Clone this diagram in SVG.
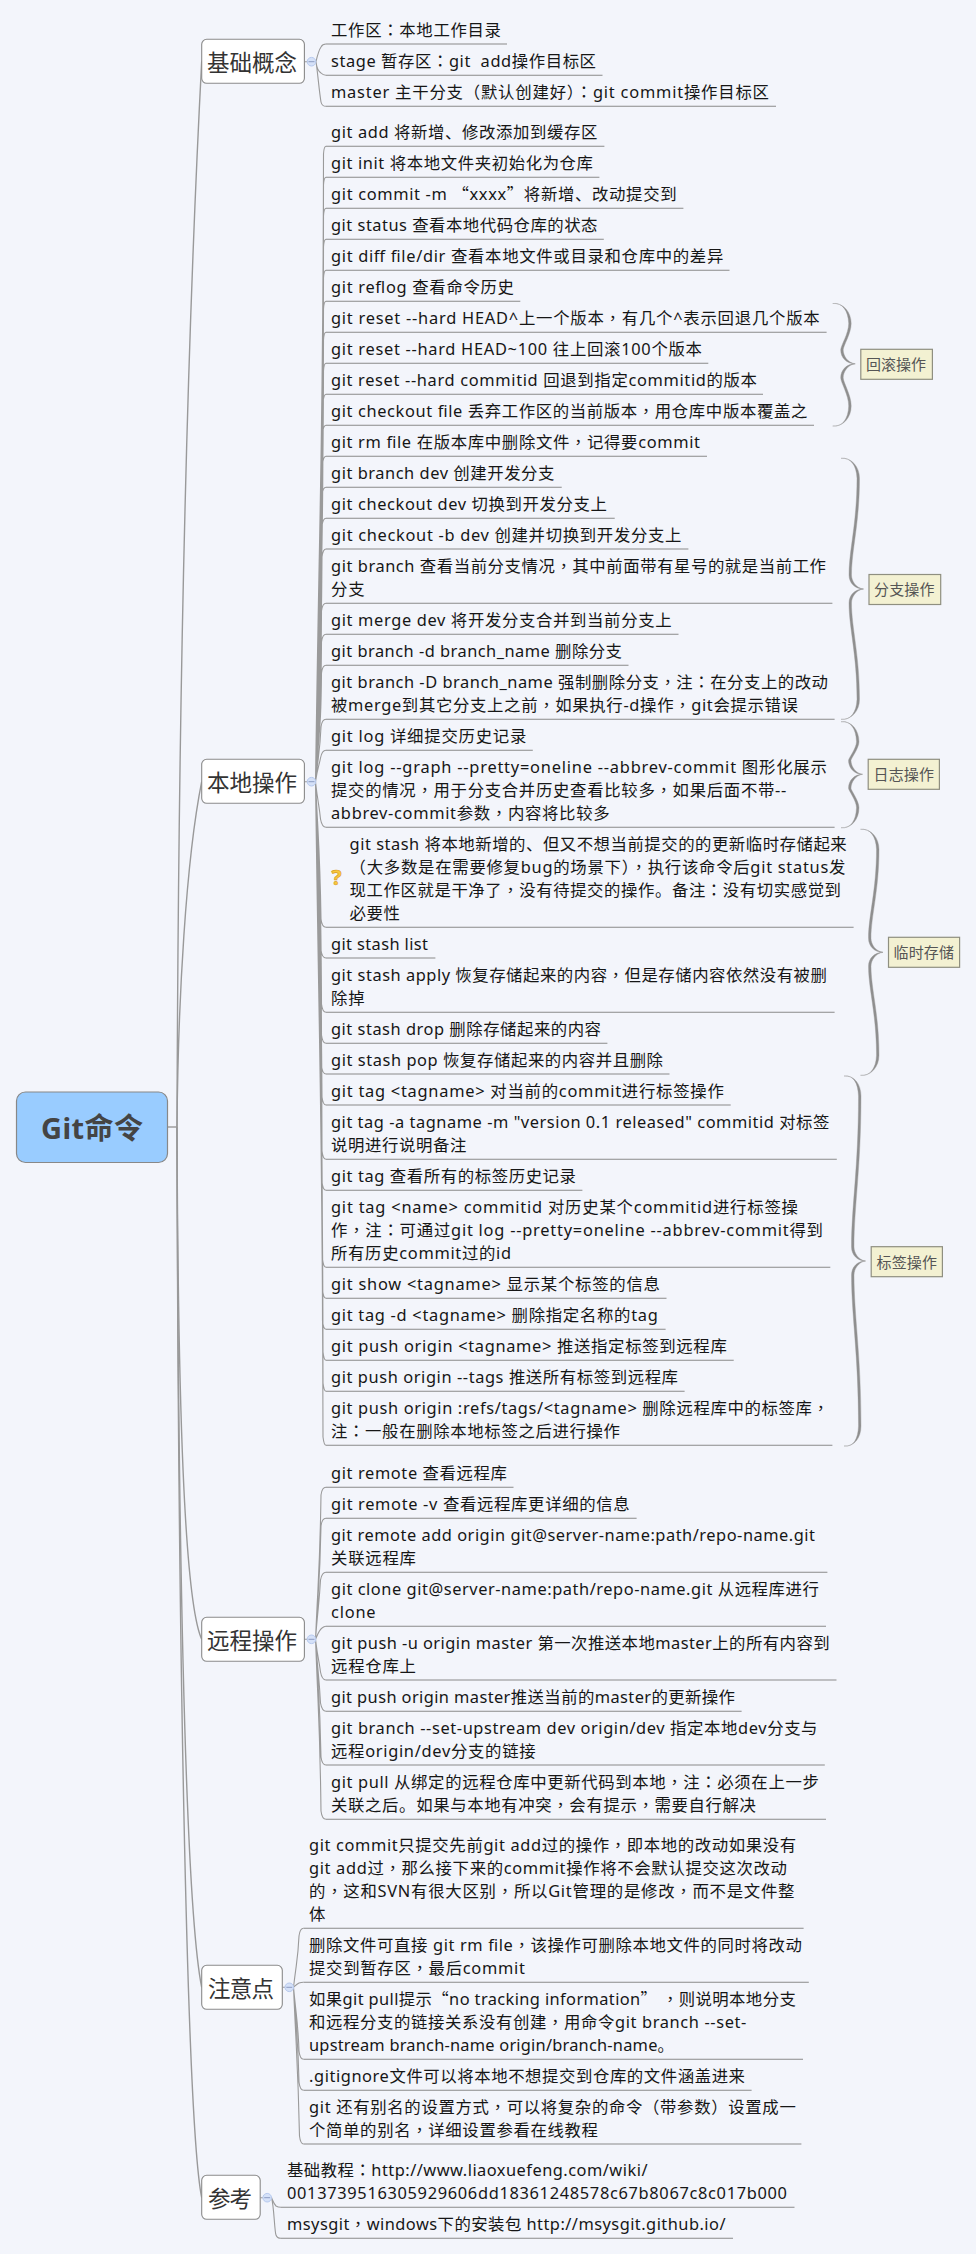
<svg xmlns="http://www.w3.org/2000/svg" width="976" height="2254" viewBox="0 0 976 2254">
<style>
text{font-family:"Noto Sans","Noto Sans CJK SC",sans-serif;white-space:pre}
.t{font-size:16.4px;fill:#161616}
.c{font-family:"Noto Sans CJK SC",sans-serif}
.p{font-family:"Noto Sans CJK TC",sans-serif}
.u{fill:none;stroke:#8a8a8a;stroke-width:1.1}
.b{fill:#fff;stroke:#8a8a8a;stroke-width:1.1}
.h{font-size:22.5px;fill:#333}
.s{fill:#f3f1d2;stroke:#8f8f80;stroke-width:1.2}
.l{font-size:15px;fill:#555}
.k{fill:none;stroke:#9a9a9a;stroke-width:1.1}
.m{fill:none;stroke:#999;stroke-width:1.4}
.br{fill:#8e8e8e;stroke:#9a9a9a;stroke-width:.4}
.bt{fill:#d5e1f8;stroke:#b6c9ee;stroke-width:1}
.bm{stroke:#8c9cc2;stroke-width:1}
</style>
<rect width="976" height="2254" fill="#f3f5fb"/>
<g id="connectors">
<path class="m" d="M167.7 1127H177"/>
<path class="m" d="M177 1127C178 800 184 400 201.7 61.3"/>
<path class="m" d="M177 1127C178 1000 186 860 201.7 781.7"/>
<path class="m" d="M177 1127C178 1400 184 1600 201.7 1639.3"/>
<path class="m" d="M177 1127C178 1500 184 1900 201.7 1987.3"/>
<path class="m" d="M177 1127C178 1600 186 2120 201.7 2197.7"/>
<path class="k" d="M304.4 61.7H316M304.4 781.7H316M304.4 1639.3H316M282.3 1987.3H293.5M260.2 2197.7H271.5"/>
<path class="k" d="M316 61.7C317.5 55 319 50 321 47Q322.5 44 326 44M316 61.7C316.5 66 318 71 321 73Q323 75.3 326 75.3M316 61.7C318 75 319 90 321 102Q322 106.3 326 106.3"/>
<path class="k" d="M315.5 781.7C320 464 323 464 323.5 154Q324 146.3 326 146.3M315.5 781.7C320 479 323 479 323.5 185Q324 177.3 326 177.3M315.5 781.7C320 495 323 495 323.5 216Q324 208.3 326 208.3M315.5 781.7C320 510 323 510 323.5 247Q324 239.3 326 239.3M315.5 781.7C320 526 323 526 323.5 278Q324 270.3 326 270.3M315.5 781.7C320 541 323 541 323.5 309Q324 301.3 326 301.3M315.5 781.7C320 557 323 557 323.5 340Q324 332.3 326 332.3M315.5 781.7C320 572 323 572 323.5 371Q324 363.3 326 363.3M315.5 781.7C320 588 323 588 323 402Q324 394.3 326 394.3M315.5 781.7C320 603 322 603 322.5 433Q323.5 425.3 326 425.3M315.5 781.7C320 619 322 619 322.5 464Q323.5 456.3 326 456.3M315.5 781.7C320 634 321.5 634 322 495Q323 487.3 326 487.3M315.5 781.7C320 650 321.5 650 322 526Q323 518.3 326 518.3M315.5 781.7C320 665 321.5 665 322 557Q323 549 326 549M315.5 781.7C320 692 321 692 321.5 611Q322.5 603.3 326 603.3M315.5 781.7C320 708 321 708 321.5 642Q322.5 634.3 326 634.3M315.5 781.7C320 723 321 723 321.5 673Q322.5 665.3 326 665.3M315.5 781.7C319 750 320 750 321 727Q322 719.3 326 719.3M315.5 781.7C318 766 319 766 320.5 758Q322 750.3 326 750.3"/>
<path class="k" d="M315.5 781.7C318 804 319 804 320.5 819Q322 827.3 326 827.3M315.5 781.7C319 854 320 854 321 919Q322 927.3 326 927.3M315.5 781.7C319 870 320 870 321 950Q322 958 326 958M315.5 781.7C320 897 321 897 321.5 1004Q322.5 1012.3 326 1012.3M315.5 781.7C320 912 321 912 321.5 1035Q322.5 1043.3 326 1043.3M315.5 781.7C320 928 321 928 321.5 1066Q322.5 1074 326 1074M315.5 781.7C320 943 321 943 322 1097Q323 1105 326 1105M315.5 781.7C320 970 321.5 970 322 1151Q323 1159.3 326 1159.3M315.5 781.7C320 986 321.5 986 322 1182Q323 1190.3 326 1190.3M315.5 781.7C320 1024 322 1024 322.5 1259Q323.5 1267.3 326 1267.3M315.5 781.7C320 1040 322 1040 322.5 1290Q323.5 1298.3 326 1298.3M315.5 781.7C320 1055 322 1055 322.5 1321Q323.5 1329.3 326 1329.3M315.5 781.7C320 1071 322.5 1071 323 1352Q324 1360.3 326 1360.3M315.5 781.7C320 1086 322.5 1086 323 1383Q324 1391.3 326 1391.3M315.5 781.7C320 1113 322.5 1113 323 1437Q324 1445.3 326 1445.3"/>
<path class="k" d="M315.5 1639.3C319 1563 320 1563 321 1495Q322 1487.3 326 1487.3M315.5 1639.3C319 1579 320 1579 321 1526Q322 1518.3 326 1518.3M315.5 1639.3C318 1606 319 1606 320.5 1580Q322 1572.3 326 1572.3M315.5 1639.3C317 1636 319 1630 322 1628Q324 1626.3 326 1626.3M315.5 1639.3C318 1660 319 1660 320.5 1672Q322 1680 326 1680M315.5 1639.3C318 1675 319 1675 320.5 1703Q322 1711.3 326 1711.3M315.5 1639.3C319 1702 320 1702 321 1757Q322 1765 326 1765M315.5 1639.3C319 1729 320 1729 321 1811Q322 1819.3 326 1819.3"/>
<path class="k" d="M293.5 1987.3C297 1958 298 1958 299 1936Q300 1928.3 303.6 1928.3M293.5 1987.3C295 1986 297 1984 299 1983Q301 1982.3 303.6 1982.3M293.5 1987.3C297 2023 298 2023 299 2051Q300 2059.3 303.6 2059.3M293.5 1987.3C297 2039 298 2039 299 2082Q300 2090.3 303.6 2090.3M293.5 1987.3C297 2066 298 2066 299.5 2136Q300.5 2144 303.6 2144"/>
<path class="k" d="M271.5 2197.7C273 2201 274 2204 276 2206Q278 2207.3 281 2207.3M271.5 2197.7C274 2205 274.5 2232 276 2235Q277 2238.3 281 2238.3"/>
</g>
<g id="root"><rect x="16.5" y="1092" width="151" height="70.5" rx="9" fill="#99ccff" stroke="#888" stroke-width="1.2"/><text x="41" y="1138.5" font-size="29" font-weight="700" fill="#444" textLength="102">Git命令</text></g>
<g id="topic-basic"><rect class="b" x="201.7" y="39.3" width="102.7" height="44" rx="5"/><text class="h" x="207" y="71" textLength="90">基础概念</text><circle class="bt" cx="311.5" cy="61.7" r="4.3"/><path class="bm" d="M308.5 61.7H314.5"/></g>
<g id="topic-local"><rect class="b" x="201.7" y="759.3" width="102.7" height="44" rx="5"/><text class="h" x="207" y="791" textLength="90">本地操作</text><circle class="bt" cx="311.5" cy="781.7" r="4.3"/><path class="bm" d="M308.5 781.7H314.5"/></g>
<g id="topic-remote"><rect class="b" x="201.7" y="1617.3" width="102.7" height="44" rx="5"/><text class="h" x="207" y="1649" textLength="90">远程操作</text><circle class="bt" cx="311.5" cy="1639.3" r="4.3"/><path class="bm" d="M308.5 1639.3H314.5"/></g>
<g id="topic-notes"><rect class="b" x="201.7" y="1965.3" width="80.6" height="44" rx="5"/><text class="h" x="208" y="1997" textLength="66">注意点</text><circle class="bt" cx="289.3" cy="1987.3" r="4.3"/><path class="bm" d="M286.3 1987.3H292.3"/></g>
<g id="topic-ref"><rect class="b" x="201.7" y="2175.3" width="58.5" height="44" rx="5"/><text class="h" x="208" y="2207" textLength="44">参考</text><circle class="bt" cx="267.2" cy="2197.7" r="4.3"/><path class="bm" d="M264.2 2197.7H270.2"/></g>
<g id="braces">
<path class="br" transform="translate(832.7 0)" d="M0 303.5C9 302.5 15.5 309.5 16 323.5C16 333.6 8 345.7 8 349.8C8 358 14 363.8 22.5 363.8C14 363.8 8 370 8 377.8C8 382.5 16 394.9 16 406C15.5 420 9 427 0 426C10 427 18.5 418 18.5 406C18.5 394.9 10.5 382.5 10.5 377.8C10.5 371.8 15 364.8 22.5 363.8C15 362.8 10.5 355.8 10.5 349.8C10.5 345.7 18.5 333.6 18.5 323.5C18.5 311.5 10 302.5 0 303.5Z"/>
<path class="br" transform="translate(841 0)" d="M0 458.3C9 457.3 15.5 464.3 16 478.3C16 523.6 8 549.8 8 575C8 583 14 589 22.5 589C14 589 8 595 8 603C8 628.1 16 654.2 16 699.3C15.5 713.3 9 720.3 0 719.3C10 720.3 18.5 711.3 18.5 699.3C18.5 654.2 10.5 628.1 10.5 603C10.5 597 15 590 22.5 589C15 588 10.5 581 10.5 575C10.5 549.8 18.5 523.6 18.5 478.3C18.5 466.3 10 457.3 0 458.3Z"/>
<path class="br" transform="translate(841 0)" d="M0 721.7C9 720.7 15 727.7 15.5 741.7C15.5 748 7.5 758.5 7.5 760.3C7.5 768.3 13.5 774.3 21.5 774.3C13.5 774.3 7.5 780.3 7.5 788.3C7.5 790.3 15.5 801 15.5 807.7C15 821.7 9 828.7 0 827.7C10 828.7 18 819.7 18 807.7C18 801 10 790.3 10 788.3C10 782.3 14.5 775.3 21.5 774.3C14.5 773.3 10 766.3 10 760.3C10 758.5 18 748 18 741.7C18 729.7 10 720.7 0 721.7Z"/>
<path class="br" transform="translate(860.5 0)" d="M0 829.3C9 828.3 15.5 835.3 16 849.3C16 890.8 8 915.4 8 938.3C8 946.3 14 952.3 22.5 952.3C14 952.3 8 958.3 8 966.3C8 989.2 16 1013.8 16 1055.3C15.5 1069.3 9 1076.3 0 1075.3C10 1076.3 18.5 1067.3 18.5 1055.3C18.5 1013.8 10.5 989.2 10.5 966.3C10.5 960.3 15 953.3 22.5 952.3C15 951.3 10.5 944.3 10.5 938.3C10.5 915.4 18.5 890.8 18.5 849.3C18.5 837.3 10 828.3 0 829.3Z"/>
<path class="br" transform="translate(844 0)" d="M0 1076C9 1075 14 1082 14.5 1096C14.5 1168.5 7.5 1205.5 7.5 1247C7.5 1255 13.5 1261 21.5 1261C13.5 1261 7.5 1267 7.5 1275C7.5 1316.5 14.5 1353.5 14.5 1426C14 1440 9 1447 0 1446C10 1447 17 1438 17 1426C17 1353.5 10 1316.5 10 1275C10 1269 14.5 1262 21.5 1261C14.5 1260 10 1253 10 1247C10 1205.5 17 1168.5 17 1096C17 1084 10 1075 0 1076Z"/>
</g>
<g id="sum-rollback"><rect class="s" x="860.8" y="349.3" width="71.6" height="30"/><text class="l" x="866" y="370" textLength="60">回滚操作</text></g>
<g id="sum-branch"><rect class="s" x="869" y="574.5" width="71.7" height="30"/><text class="l" x="874" y="595" textLength="60.5">分支操作</text></g>
<g id="sum-log"><rect class="s" x="868.2" y="759.3" width="71.2" height="30"/><text class="l" x="873.5" y="780" textLength="60.5">日志操作</text></g>
<g id="sum-stash"><rect class="s" x="888.5" y="937.3" width="71.1" height="30"/><text class="l" x="893.5" y="958" textLength="60.5">临时存储</text></g>
<g id="sum-tag"><rect class="s" x="871.2" y="1246.7" width="71.2" height="30"/><text class="l" x="876.5" y="1267.5" textLength="60.5">标签操作</text></g>
<g id="n1"><text class="t" x="331" y="36" textLength="170">工作区<tspan class="p">：</tspan>本地工作目录</text><path class="u" d="M326 44H507"/></g>
<g id="n2"><text class="t" x="331" y="67.3" textLength="265">stage 暂存区<tspan class="p">：</tspan>git  add操作目标区</text><path class="u" d="M326 75.3H602.5"/></g>
<g id="n3"><text class="t" x="331" y="98.3" textLength="438">master 主干分支（默认创建好）<tspan class="p">：</tspan>git commit操作目标区</text><path class="u" d="M326 106.3H776"/></g>
<g id="n4"><text class="t" x="331" y="138.3" textLength="266.5">git add 将新增、修改添加到缓存区</text><path class="u" d="M326 146.3H604.4"/></g>
<g id="n5"><text class="t" x="331" y="169.3" textLength="262">git init 将本地文件夹初始化为仓库</text><path class="u" d="M326 177.3H599.4"/></g>
<g id="n6"><text class="t" x="331" y="200.3" textLength="345.6">git commit -m <tspan class="c">“</tspan>xxxx<tspan class="c">”</tspan>将新增、改动提交到</text><path class="u" d="M326 208.3H683.4"/></g>
<g id="n7"><text class="t" x="331" y="231.3" textLength="266.5">git status 查看本地代码仓库的状态</text><path class="u" d="M326 239.3H603.8"/></g>
<g id="n8"><text class="t" x="331" y="262.3" textLength="392.3">git diff file/dir 查看本地文件或目录和仓库中的差异</text><path class="u" d="M326 270.3H729.5"/></g>
<g id="n9"><text class="t" x="331" y="293.3" textLength="183">git reflog 查看命令历史</text><path class="u" d="M326 301.3H520.3"/></g>
<g id="n10"><text class="t" x="331" y="324.3" textLength="488.7">git reset --hard HEAD^上一个版本<tspan class="p">，</tspan>有几个^表示回退几个版本</text><path class="u" d="M326 332.3H826.6"/></g>
<g id="n11"><text class="t" x="331" y="355.3" textLength="371">git reset --hard HEAD~100 往上回滚100个版本</text><path class="u" d="M326 363.3H708.3"/></g>
<g id="n12"><text class="t" x="331" y="386.3" textLength="426">git reset --hard commitid 回退到指定commitid的版本</text><path class="u" d="M326 394.3H763"/></g>
<g id="n13"><text class="t" x="331" y="417.3" textLength="476.3">git checkout file 丢弃工作区的当前版本<tspan class="p">，</tspan>用仓库中版本覆盖之</text><path class="u" d="M326 425.3H814"/></g>
<g id="n14"><text class="t" x="331" y="448.3" textLength="369">git rm file 在版本库中删除文件<tspan class="p">，</tspan>记得要commit</text><path class="u" d="M326 456.3H707"/></g>
<g id="n15"><text class="t" x="331" y="479.3" textLength="223.4">git branch dev 创建开发分支</text><path class="u" d="M326 487.3H561.7"/></g>
<g id="n16"><text class="t" x="331" y="510.3" textLength="276">git checkout dev 切换到开发分支上</text><path class="u" d="M326 518.3H614.7"/></g>
<g id="n17"><text class="t" x="331" y="541" textLength="350.5">git checkout -b dev 创建并切换到开发分支上</text><path class="u" d="M326 549H688.4"/></g>
<g id="n18"><text class="t" x="331" y="572.3" textLength="495">git branch 查看当前分支情况<tspan class="p">，</tspan>其中前面带有星号的就是当前工作</text><text class="t" x="331" y="595.3" textLength="33.7">分支</text><path class="u" d="M326 603.3H832.4"/></g>
<g id="n19"><text class="t" x="331" y="626.3" textLength="340.6">git merge dev 将开发分支合并到当前分支上</text><path class="u" d="M326 634.3H678.5"/></g>
<g id="n20"><text class="t" x="331" y="657.3" textLength="291">git branch -d branch_name 删除分支</text><path class="u" d="M326 665.3H628.5"/></g>
<g id="n21"><text class="t" x="331" y="688.3" textLength="497">git branch -D branch_name 强制删除分支<tspan class="p">，</tspan>注<tspan class="p">：</tspan>在分支上的改动</text><text class="t" x="331" y="711.3" textLength="467">被merge到其它分支上之前<tspan class="p">，</tspan>如果执行-d操作<tspan class="p">，</tspan>git会提示错误</text><path class="u" d="M326 719.3H834.6"/></g>
<g id="n22"><text class="t" x="331" y="742.3" textLength="195.3">git log 详细提交历史记录</text><path class="u" d="M326 750.3H532.8"/></g>
<g id="n23"><text class="t" x="331" y="773.3" textLength="495.9">git log --graph --pretty=oneline --abbrev-commit 图形化展示</text><text class="t" x="331" y="796.3" textLength="455.3">提交的情况<tspan class="p">，</tspan>用于分支合并历史查看比较多<tspan class="p">，</tspan>如果后面不带--</text><text class="t" x="331" y="819.3" textLength="278.6">abbrev-commit参数<tspan class="p">，</tspan>内容将比较多</text><path class="u" d="M326 827.3H834.6"/></g>
<g id="n24"><text x="331.5" y="885" font-size="21" font-weight="700" fill="#f8c93e" stroke="#d99a1e" stroke-width=".6">?</text><text class="t" x="349.6" y="850.3" textLength="497.1">git stash 将本地新增的、但又不想当前提交的的更新临时存储起来</text><text class="t" x="349.6" y="873.3" textLength="495.8">（大多数是在需要修复bug的场景下）<tspan class="p">，</tspan>执行该命令后git status发</text><text class="t" x="349.6" y="896.3" textLength="491.4">现工作区就是干净了<tspan class="p">，</tspan>没有待提交的操作。备注<tspan class="p">：</tspan>没有切实感觉到</text><text class="t" x="349.6" y="919.3" textLength="50.4">必要性</text><path class="u" d="M326 927.3H853.6"/></g>
<g id="n25"><text class="t" x="331" y="950" textLength="97">git stash list</text><path class="u" d="M326 958H435.4"/></g>
<g id="n26"><text class="t" x="331" y="981.3" textLength="495.9">git stash apply 恢复存储起来的内容<tspan class="p">，</tspan>但是存储内容依然没有被删</text><text class="t" x="331" y="1004.3" textLength="33.7">除掉</text><path class="u" d="M326 1012.3H834.6"/></g>
<g id="n27"><text class="t" x="331" y="1035.3" textLength="270">git stash drop 删除存储起来的内容</text><path class="u" d="M326 1043.3H607.4"/></g>
<g id="n28"><text class="t" x="331" y="1066" textLength="332">git stash pop 恢复存储起来的内容并且删除</text><path class="u" d="M326 1074H669.5"/></g>
<g id="n29"><text class="t" x="331" y="1097" textLength="392.8">git tag &lt;tagname&gt; 对当前的commit进行标签操作</text><path class="u" d="M326 1105H730.7"/></g>
<g id="n30"><text class="t" x="331" y="1128.3" textLength="498.4">git tag -a tagname -m "version 0.1 released" commitid 对标签</text><text class="t" x="331" y="1151.3" textLength="135.4">说明进行说明备注</text><path class="u" d="M326 1159.3H836.8"/></g>
<g id="n31"><text class="t" x="331" y="1182.3" textLength="245">git tag 查看所有的标签历史记录</text><path class="u" d="M326 1190.3H582.4"/></g>
<g id="n32"><text class="t" x="331" y="1213.3" textLength="467">git tag &lt;name&gt; commitid 对历史某个commitid进行标签操</text><text class="t" x="331" y="1236.3" textLength="492">作<tspan class="p">，</tspan>注<tspan class="p">：</tspan>可通过git log --pretty=oneline --abbrev-commit得到</text><text class="t" x="331" y="1259.3" textLength="180">所有历史commit过的id</text><path class="u" d="M326 1267.3H830.3"/></g>
<g id="n33"><text class="t" x="331" y="1290.3" textLength="329">git show &lt;tagname&gt; 显示某个标签的信息</text><path class="u" d="M326 1298.3H666.5"/></g>
<g id="n34"><text class="t" x="331" y="1321.3" textLength="326.8">git tag -d &lt;tagname&gt; 删除指定名称的tag</text><path class="u" d="M326 1329.3H665.6"/></g>
<g id="n35"><text class="t" x="331" y="1352.3" textLength="395.8">git push origin &lt;tagname&gt; 推送指定标签到远程库</text><path class="u" d="M326 1360.3H733.7"/></g>
<g id="n36"><text class="t" x="331" y="1383.3" textLength="347">git push origin --tags 推送所有标签到远程库</text><path class="u" d="M326 1391.3H684.6"/></g>
<g id="n37"><text class="t" x="331" y="1414.3" textLength="498">git push origin :refs/tags/&lt;tagname&gt; 删除远程库中的标签库<tspan class="p">，</tspan></text><text class="t" x="331" y="1437.3" textLength="289">注<tspan class="p">：</tspan>一般在删除本地标签之后进行操作</text><path class="u" d="M326 1445.3H832.4"/></g>
<g id="n38"><text class="t" x="331" y="1479.3" textLength="176">git remote 查看远程库</text><path class="u" d="M326 1487.3H513.5"/></g>
<g id="n39"><text class="t" x="331" y="1510.3" textLength="298.7">git remote -v 查看远程库更详细的信息</text><path class="u" d="M326 1518.3H636.6"/></g>
<g id="n40"><text class="t" x="331" y="1541.3" textLength="484">git remote add origin git@server-name:path/repo-name.git</text><text class="t" x="331" y="1564.3" textLength="85">关联远程库</text><path class="u" d="M326 1572.3H827.4"/></g>
<g id="n41"><text class="t" x="331" y="1595.3" textLength="487.8">git clone git@server-name:path/repo-name.git 从远程库进行</text><text class="t" x="331" y="1618.3" textLength="44.6">clone</text><path class="u" d="M326 1626.3H826"/></g>
<g id="n42"><text class="t" x="331" y="1649" textLength="498.6">git push -u origin master 第一次推送本地master上的所有内容到</text><text class="t" x="331" y="1672" textLength="85">远程仓库上</text><path class="u" d="M326 1680H836.5"/></g>
<g id="n43"><text class="t" x="331" y="1703.3" textLength="404">git push origin master推送当前的master的更新操作</text><path class="u" d="M326 1711.3H741.6"/></g>
<g id="n44"><text class="t" x="331" y="1734" textLength="486.5">git branch --set-upstream dev origin/dev 指定本地dev分支与</text><text class="t" x="331" y="1757" textLength="204.6">远程origin/dev分支的链接</text><path class="u" d="M326 1765H824.8"/></g>
<g id="n45"><text class="t" x="331" y="1788.3" textLength="487.8">git pull 从绑定的远程仓库中更新代码到本地<tspan class="p">，</tspan>注<tspan class="p">：</tspan>必须在上一步</text><text class="t" x="331" y="1811.3" textLength="425">关联之后。如果与本地有冲突<tspan class="p">，</tspan>会有提示<tspan class="p">，</tspan>需要自行解决</text><path class="u" d="M326 1819.3H826"/></g>
<g id="n46"><text class="t" x="309" y="1851.3" textLength="487.2">git commit只提交先前git add过的操作<tspan class="p">，</tspan>即本地的改动如果没有</text><text class="t" x="309" y="1874.3" textLength="478">git add过<tspan class="p">，</tspan>那么接下来的commit操作将不会默认提交这次改动</text><text class="t" x="309" y="1897.3" textLength="485.5">的<tspan class="p">，</tspan>这和SVN有很大区别<tspan class="p">，</tspan>所以Git管理的是修改<tspan class="p">，</tspan>而不是文件整</text><text class="t" x="309" y="1920.3" textLength="17">体</text><path class="u" d="M303.6 1928.3H803.6"/></g>
<g id="n47"><text class="t" x="309" y="1951.3" textLength="493">删除文件可直接 git rm file<tspan class="p">，</tspan>该操作可删除本地文件的同时将改动</text><text class="t" x="309" y="1974.3" textLength="215.8">提交到暂存区<tspan class="p">，</tspan>最后commit</text><path class="u" d="M303.6 1982.3H808.8"/></g>
<g id="n48"><text class="t" x="309" y="2005.3" textLength="486.8">如果git pull提示<tspan class="c">“</tspan>no tracking information<tspan class="c">”</tspan> <tspan class="p">，</tspan>则说明本地分支</text><text class="t" x="309" y="2028.3" textLength="437.3">和远程分支的链接关系没有创建<tspan class="p">，</tspan>用命令git branch --set-</text><text class="t" x="309" y="2051.3" textLength="365">upstream branch-name origin/branch-name。</text><path class="u" d="M303.6 2059.3H803"/></g>
<g id="n49"><text class="t" x="309" y="2082.3" textLength="436">.gitignore文件可以将本地不想提交到仓库的文件涵盖进来</text><path class="u" d="M303.6 2090.3H751.6"/></g>
<g id="n50"><text class="t" x="309" y="2113" textLength="486.8">git 还有别名的设置方式<tspan class="p">，</tspan>可以将复杂的命令（带参数）设置成一</text><text class="t" x="309" y="2136" textLength="289">个简单的别名<tspan class="p">，</tspan>详细设置参看在线教程</text><path class="u" d="M303.6 2144H801.4"/></g>
<g id="n51"><text class="t" x="287" y="2176.3" textLength="360.5">基础教程<tspan class="p">：</tspan>http://www.liaoxuefeng.com/wiki/</text><text class="t" x="287" y="2199.3" textLength="500">0013739516305929606dd18361248578c67b8067c8c017b000</text><path class="u" d="M281 2207.3H794.5"/></g>
<g id="n52"><text class="t" x="287" y="2230.3" textLength="438.5">msysgit<tspan class="p">，</tspan>windows下的安装包 http://msysgit.github.io/</text><path class="u" d="M281 2238.3H733"/></g>
</svg>
